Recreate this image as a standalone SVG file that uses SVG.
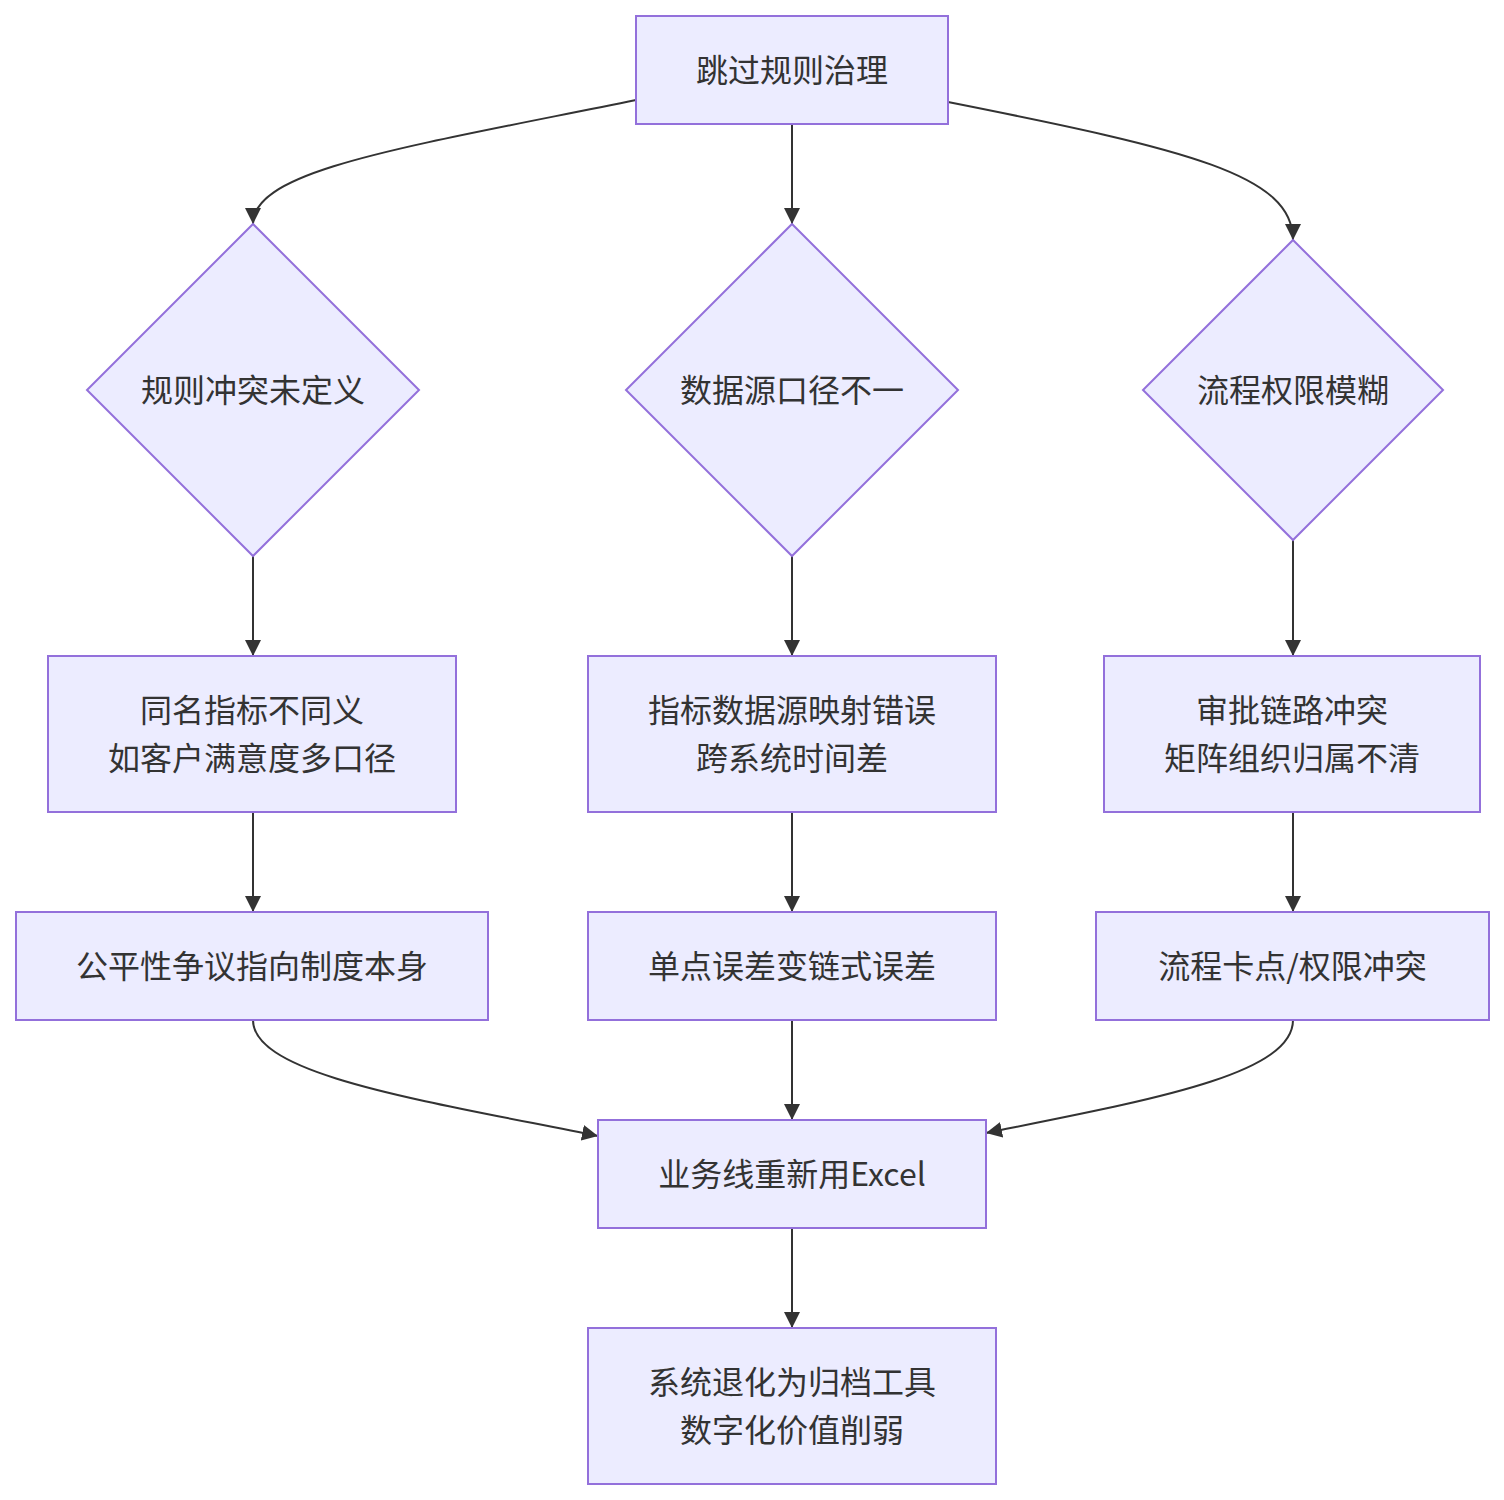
<svg xmlns="http://www.w3.org/2000/svg" width="1504" height="1500" viewBox="0 0 1504 1500">
<style>
.n{fill:#ECECFF;stroke:#9370DB;stroke-width:2}
.t{font-family:"Noto Sans CJK SC","Noto Sans",sans-serif;font-size:32px;fill:#333333;text-anchor:middle;dominant-baseline:central}
.e{fill:none;stroke:#333333;stroke-width:2}
</style>
<defs>
<marker id="ah" viewBox="0 0 10 10" refX="10" refY="5" markerWidth="16" markerHeight="16" markerUnits="userSpaceOnUse" orient="auto">
<path d="M0,0 L10,5 L0,10 z" fill="#333333"/>
</marker>
</defs>
<rect width="1504" height="1500" fill="#ffffff"/>
<g id="edges">
<path class="e" marker-end="url(#ah)" d="M636,100 C400,148 253,170 253,224"/>
<path class="e" marker-end="url(#ah)" d="M792,124 L792,224"/>
<path class="e" marker-end="url(#ah)" d="M948,102 C1190,150 1293,175 1293,240"/>
<path class="e" marker-end="url(#ah)" d="M253,556 L253,656"/>
<path class="e" marker-end="url(#ah)" d="M792,556 L792,656"/>
<path class="e" marker-end="url(#ah)" d="M1293,540 L1293,656"/>
<path class="e" marker-end="url(#ah)" d="M253,812 L253,912"/>
<path class="e" marker-end="url(#ah)" d="M792,812 L792,912"/>
<path class="e" marker-end="url(#ah)" d="M1293,812 L1293,912"/>
<path class="e" marker-end="url(#ah)" d="M253,1020 C253,1075 420,1100 598,1136"/>
<path class="e" marker-end="url(#ah)" d="M792,1020 L792,1120"/>
<path class="e" marker-end="url(#ah)" d="M1293,1020 C1293,1075 1150,1100 986,1133"/>
<path class="e" marker-end="url(#ah)" d="M792,1228 L792,1328"/>
</g>
<g id="A"><rect class="n" x="636" y="16" width="312" height="108"/><text class="t" x="792" y="68">跳过规则治理</text></g>
<g id="B"><polygon class="n" points="253,224 419,390 253,556 87,390"/><text class="t" x="253" y="388">规则冲突未定义</text></g>
<g id="C"><polygon class="n" points="792,224 958,390 792,556 626,390"/><text class="t" x="792" y="388">数据源口径不一</text></g>
<g id="D"><polygon class="n" points="1293,240 1443,390 1293,540 1143,390"/><text class="t" x="1293" y="388">流程权限模糊</text></g>
<g id="E"><rect class="n" x="48" y="656" width="408" height="156"/><text class="t" x="252" y="708">同名指标不同义</text><text class="t" x="252" y="756">如客户满意度多口径</text></g>
<g id="F"><rect class="n" x="588" y="656" width="408" height="156"/><text class="t" x="792" y="708">指标数据源映射错误</text><text class="t" x="792" y="756">跨系统时间差</text></g>
<g id="G"><rect class="n" x="1104" y="656" width="376" height="156"/><text class="t" x="1292" y="708">审批链路冲突</text><text class="t" x="1292" y="756">矩阵组织归属不清</text></g>
<g id="H"><rect class="n" x="16" y="912" width="472" height="108"/><text class="t" x="252" y="964">公平性争议指向制度本身</text></g>
<g id="I"><rect class="n" x="588" y="912" width="408" height="108"/><text class="t" x="792" y="964">单点误差变链式误差</text></g>
<g id="J"><rect class="n" x="1096" y="912" width="393" height="108"/><text class="t" x="1292.5" y="964">流程卡点/权限冲突</text></g>
<g id="K"><rect class="n" x="598" y="1120" width="388" height="108"/><text class="t" x="792" y="1172">业务线重新用Excel</text></g>
<g id="L"><rect class="n" x="588" y="1328" width="408" height="156"/><text class="t" x="792" y="1380">系统退化为归档工具</text><text class="t" x="792" y="1428">数字化价值削弱</text></g>
</svg>
